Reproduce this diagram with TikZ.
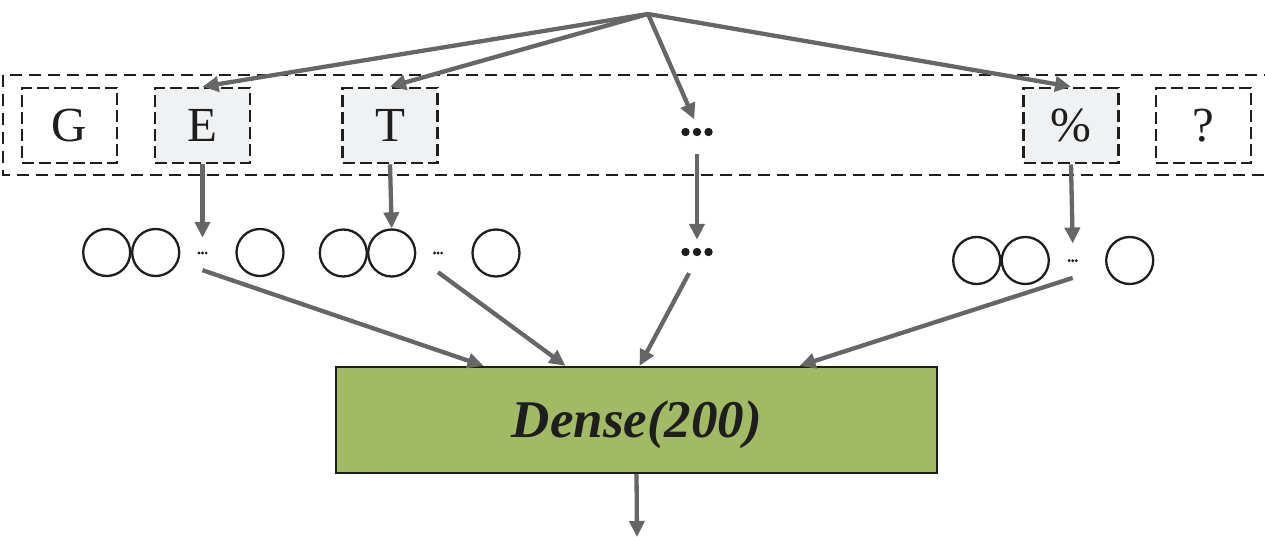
\documentclass[tikz,border=0pt]{standalone}
\usepackage{fontspec}
\setmainfont{Liberation Serif}
\usetikzlibrary{arrows.meta}
\definecolor{hlgray}{HTML}{F0F1F3}
\definecolor{arrgray}{HTML}{666666}
\definecolor{densegreen}{HTML}{A3BA64}
\definecolor{inkblack}{HTML}{1E1E1E}
\begin{document}
\begin{tikzpicture}[x=1pt,y=-1pt,
  tok/.style={draw=inkblack, line width=2.6pt, dash pattern=on 12pt off 5pt, minimum width=95pt, minimum height=75pt, inner sep=0pt, font=\fontsize{49}{49}\selectfont, text=inkblack},
  hl/.style={fill=hlgray},
  outerbox/.style={draw=inkblack, line width=2.6pt, dash pattern=on 12pt off 7pt},
  unit/.style={circle, draw=inkblack, line width=2.3pt, minimum size=47pt, inner sep=0pt},
  arr/.style={draw=arrgray, line width=4.3pt, -{Triangle[length=16pt,width=15pt]}},
  bigdots/.style={minimum width=36pt, minimum height=12pt, inner sep=0pt,
    path picture={\foreach \dx in {-11.5,0,11.5}{\fill[inkblack] ([xshift=\dx pt]path picture bounding box.center) circle (4.2pt);}}},
  smalldots/.style={minimum width=12pt, minimum height=6pt, inner sep=0pt,
    path picture={\foreach \dx in {-3.6,0,3.6}{\fill[inkblack] ([xshift=\dx pt]path picture bounding box.center) circle (1.6pt);}}},
  densebox/.style={draw=inkblack, line width=2.3pt, fill=densegreen, minimum width=601pt, minimum height=106pt, inner sep=0pt},
  densetext/.style={font=\fontsize{53}{53}\selectfont\bfseries\itshape, text=inkblack, inner sep=0pt}
]
\useasboundingbox (0,0) rectangle (1265,537);
\clip (0,0) rectangle (1265,537);

\draw[outerbox] (3,75) rectangle (1290,175);

\node[tok] (G) at (69.5,125.5) {G};
\node[tok,hl] (E) at (202.5,125.5) {E};
\node[tok,hl] (T) at (390,125.5) {T};
\node[bigdots] (dots1) at (697,132) {};
\node[tok,hl] (pct) at (1071,125.5) {\%};
\node[tok] (q) at (1203.5,125.5) {?};

\coordinate (src) at (648,14);

\node[unit] (a1) at (106.7,252.5) {};
\node[unit] (a2) at (155.7,252.5) {};
\node[smalldots] (sa) at (202.5,253) {};
\node[unit] (a3) at (260,252.5) {};

\node[unit] (b1) at (343.3,253) {};
\node[unit] (b2) at (391.7,253) {};
\node[smalldots] (sb) at (438,253) {};
\node[unit] (b3) at (496,253) {};

\node[bigdots] (dots2) at (697,252) {};

\node[unit] (d1) at (976.7,260.5) {};
\node[unit] (d2) at (1025.3,260.5) {};
\node[smalldots] (sd) at (1072.7,260.7) {};
\node[unit] (d3) at (1129.7,260.5) {};

\node[densebox] (dense) at (636.5,420) {};
\node[densetext] (densetxt) at (637,425) {Dense(200)};
\coordinate (out) at (637,537);

\draw[arr] (src) -- (E.north);
\draw[arr] (src) -- (T.north);
\draw[arr, shorten >=7pt] (src) -- (dots1.north);
\draw[arr] (src) -- (pct.north);

\draw[arr] (E.south) -- ([yshift=12pt]sa.north);
\draw[arr] (T.south) -- (b2.north);
\draw[arr, shorten <=16pt, shorten >=6pt] (dots1.south) -- (dots2.north);
\draw[arr] (pct.south) -- ([yshift=14pt]sd.north);

\draw[arr] ([yshift=-14pt]sa.south) -- ([xshift=-153pt]dense.north);
\draw[arr] ([yshift=-16pt]sb.south) -- ([xshift=-71pt]dense.north);
\draw[arr, shorten <=17pt] (dots2.south) -- ([xshift=3pt]dense.north);
\draw[arr] ([yshift=-14pt]sd.south) -- ([xshift=163pt]dense.north);
\draw[arr] (dense.south) -- (out);
\end{tikzpicture}
\end{document}
